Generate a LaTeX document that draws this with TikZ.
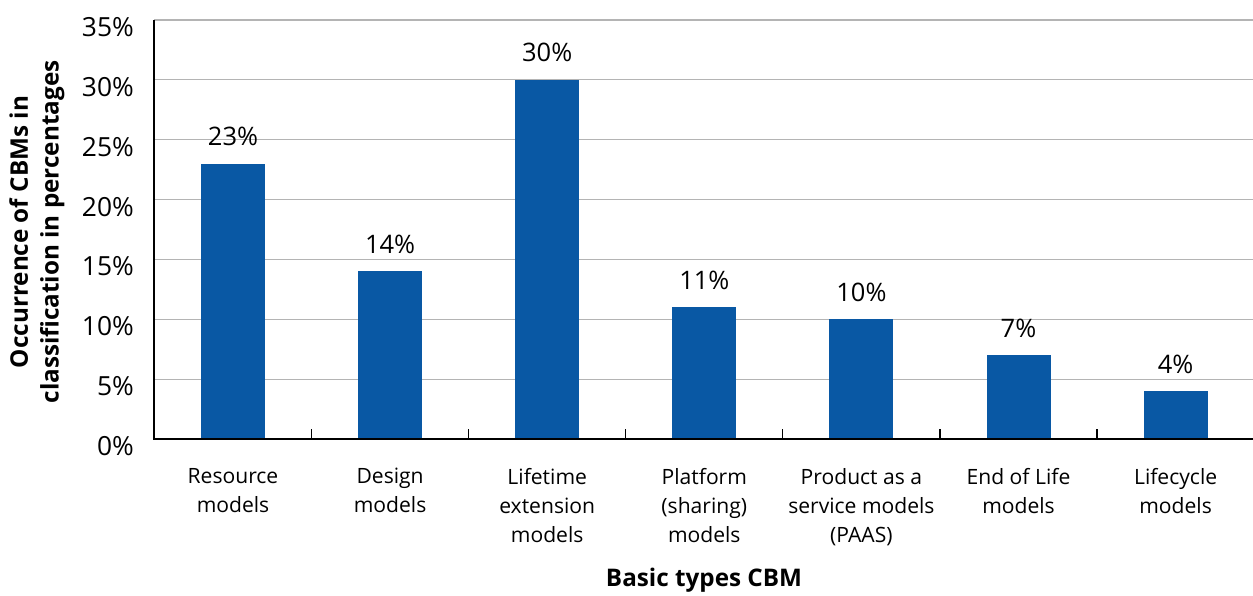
\documentclass[tikz,border=0pt]{standalone}
\usepackage{fontspec}
\setmainfont{Open Sans}
\definecolor{barblue}{HTML}{0958A4}
\definecolor{gridgray}{HTML}{B4B4B4}
\begin{document}
\begin{tikzpicture}[x=0.02cm,y=-0.02cm,
  gridline/.style={gridgray,line width=0.7pt},
  axisline/.style={black,line width=1.6pt},
  tickmark/.style={black,line width=0.7pt},
  bar/.style={fill=barblue,draw=none},
  ylab/.style={anchor=east,font=\fontsize{15}{17}\selectfont},
  vallab/.style={anchor=base,font=\fontsize{14.5}{17}\selectfont},
  catlab/.style={anchor=north,align=center,font=\fontsize{12}{16.6}\selectfont},
  axtitle/.style={font=\fontsize{13.8}{17.5}\selectfont\bfseries,align=center}]
  \useasboundingbox (0,0) rectangle (1253,595);
  % grid and y labels
  \foreach \v in {1,...,7}
    \draw[gridline] (154,{439-\v*59.857}) -- (1253,{439-\v*59.857});
  \foreach \v in {0,...,7}
    \node[ylab] (y\v) at (140,{446-\v*59.857}) {\the\numexpr\v*5\relax\%};
  % bars
  \foreach \i/\p/\t in {0/23/{Resource\\models},1/14/{Design\\models},
      2/30/{Lifetime\\extension\\models},3/11/{Platform\\(sharing)\\models},
      4/10/{Product as a\\service models\\(PAAS)},5/7/{End of Life\\models},
      6/4/{Lifecycle\\models}} {
    \fill[bar] ({201+\i*157.1},439) rectangle ({265+\i*157.1},{439-\p*11.971});
    \node[vallab] (v\i) at ({233+\i*157.1},{439-\p*11.971-18}) {\p\%};
    \node[catlab] (c\i) at ({233+\i*157.1},462) {\t};
    \draw[tickmark] ({311.5+\i*157.1},439) -- ({311.5+\i*157.1},429);
  }
  % axes
  \draw[axisline] (154,20) -- (154,439) -- (1253,439);
  \node[axtitle] (xt) at (704,580) {Basic types CBM};
  \node[axtitle,rotate=90] (yt) at (37,232) {Occurrence of CBMs in\\classification in percentages};
\end{tikzpicture}
\end{document}
